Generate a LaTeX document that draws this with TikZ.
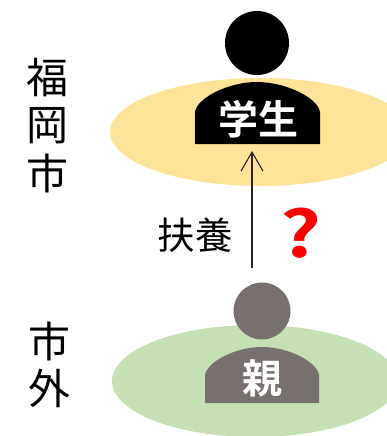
\documentclass[tikz,border=0pt]{standalone}
\usepackage{fontspec}
\usetikzlibrary{arrows.meta}
\newfontfamily\cjk{Noto Sans CJK JP}
\newfontfamily\cjkbold{Noto Sans CJK JP Bold}
\definecolor{yell}{HTML}{FFE399}
\definecolor{gree}{HTML}{C5E0B4}
\definecolor{pgray}{HTML}{786F6F}
\tikzset{
  vtext/.style={font=\cjk\fontsize{42}{46}\selectfont,text=black,inner sep=0pt},
  ltext/.style={font=\cjk\fontsize{37.5}{40}\selectfont,text=black,inner sep=0pt},
  wtext/.style={font=\cjkbold\fontsize{40}{44}\selectfont,text=white,inner sep=0pt},
  qmark/.style={font=\cjkbold\fontsize{64}{70}\selectfont,text=red,inner sep=0pt},
  link/.style={draw=black!85,line width=1.1pt,-{Straight Barb[length=19pt,width=22pt,line width=1.1pt]}}
}
\begin{document}
\begin{tikzpicture}[x=1pt,y=-1pt]
\useasboundingbox (0,0) rectangle (387,436);
\begin{scope}
\clip (0,0) rectangle (387,436);
\fill[yell] (260,132) ellipse [x radius=150,y radius=54];
\fill[gree] (255,381) ellipse [x radius=143,y radius=56];
\end{scope}
% student
\fill[black] (257,43) circle [radius=32];
\fill[black] (195,144) -- (195,112) .. controls (197,98) and (228,82) .. (257,82) .. controls (286,82) and (318,98) .. (320,112) -- (320,144) -- cycle;
\node[wtext] (gakusei) at (258,119) {学生};
% parent
\fill[pgray] (262,311) circle [radius=28.5];
\fill[pgray] (205,403) -- (205,375) .. controls (207,362) and (235,347) .. (262,347) .. controls (289,347) and (317,362) .. (319,375) -- (319,403) -- cycle;
\node[wtext] (oya) at (262,378) {親};
% arrow
\coordinate (from) at (252,268);
\coordinate (to) at (252,151);
\draw[link] (from) -- (to);
\node[ltext] (fuyou) at (195,235) {扶養};
\node[qmark] (q) at (301,233) {\scalebox{1.25}[1]{?}};
% left labels
\node[vtext] (c1) at (47,78) {福};
\node[vtext] (c2) at (47,126) {岡};
\node[vtext] (c3) at (47,173) {市};
\node[vtext] (c4) at (49,341) {市};
\node[vtext] (c5) at (49,388) {外};
\end{tikzpicture}
\end{document}
